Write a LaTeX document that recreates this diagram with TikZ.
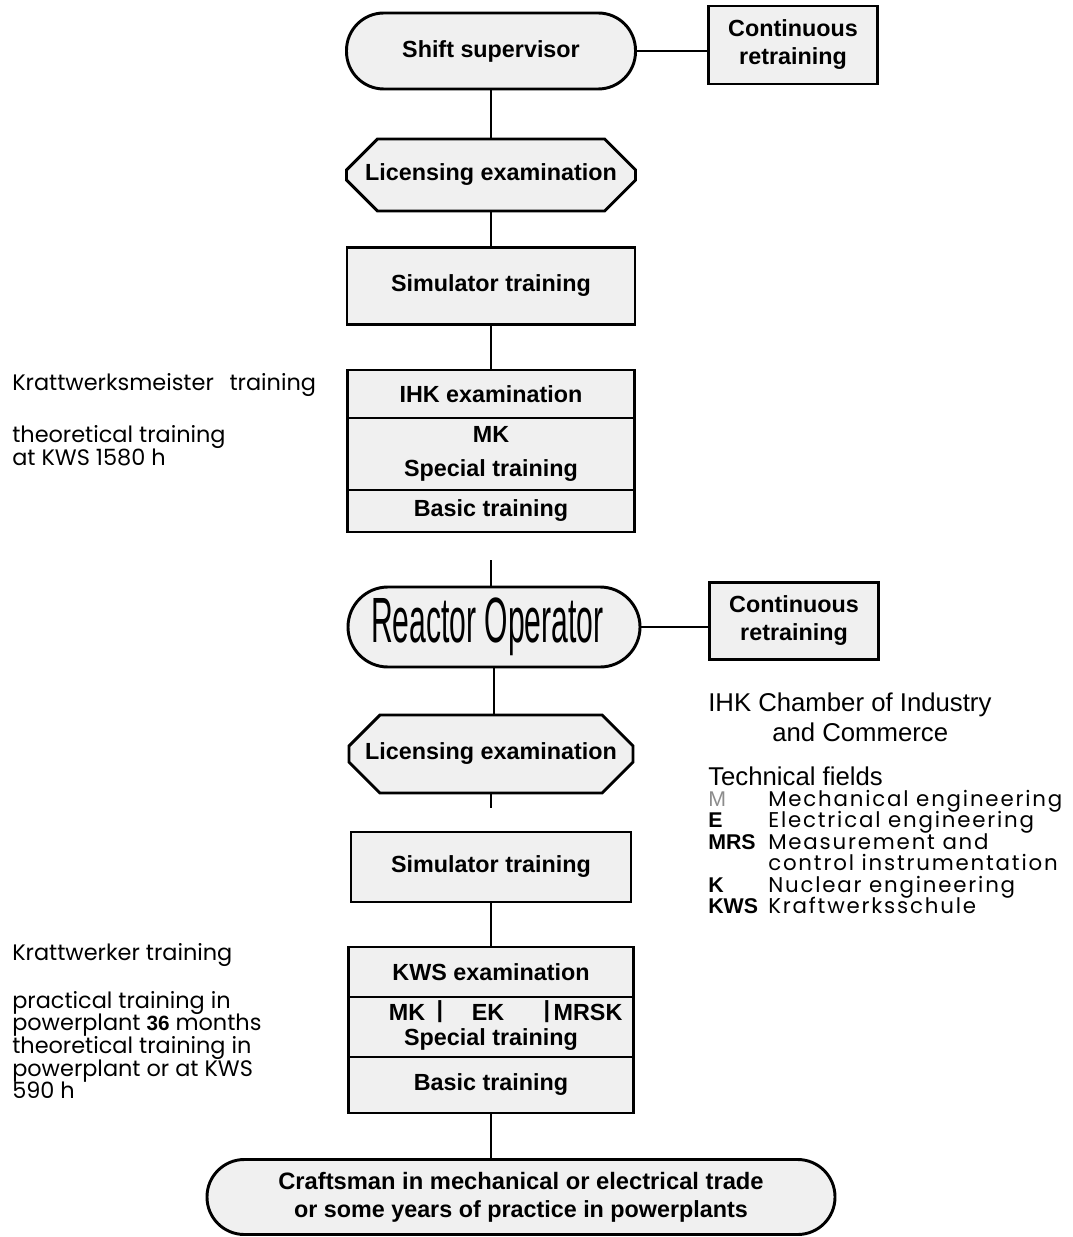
\documentclass[tikz,border=0pt]{standalone}
\usepackage{fontspec}
\setmainfont{Liberation Sans}
\newfontfamily\gothic{Poppins}
\newfontfamily\gothicw{Poppins}[LetterSpace=8.5]
\usetikzlibrary{shapes.misc}
\newcommand\tightlines{\lineskiplimit=-30pt\relax}
\begin{document}
\begin{tikzpicture}[x=0.75pt,y=-0.75pt,
  box/.style={draw, line width=2.2pt, fill=black!6, inner sep=0pt, align=center,
    font=\fontsize{17.5}{21}\selectfont\bfseries},
  stadium/.style={box, rounded corners=#1},
  octa/.style={box, chamfered rectangle, chamfered rectangle xsep=18pt, chamfered rectangle ysep=15pt},
  lbl/.style={inner sep=0pt, font=\fontsize{17.5}{21}\selectfont\bfseries},
  link/.style={line width=2pt},
  note/.style={anchor=west, inner sep=0pt, align=left, font=\gothic\fontsize{16.8}{17}\selectfont\tightlines},
  helv/.style={anchor=west, inner sep=0pt, align=left, font=\fontsize{19.3}{21}\selectfont},
]
\useasboundingbox (0,0) rectangle (1073,1237);

% upper column
\node[stadium=28pt, minimum width=216.75pt, minimum height=57pt] (ss) at (491,51) {Shift supervisor};
\node[box, minimum width=126.75pt, minimum height=58.5pt] (cr1) at (793,45) {Continuous\\retraining};
\node[octa, minimum width=216.75pt, minimum height=54pt] (le1) at (491,175) {Licensing examination};
\node[box, minimum width=216pt, minimum height=57.75pt] (sim1) at (491,286) {Simulator training};
\node[box, minimum width=215.25pt, minimum height=36pt] (ihk) at (491,394) {IHK examination};
\node[box, minimum width=215.25pt, minimum height=54pt] (mk1) at (491,454) {MK\\[5pt]Special training};
\node[box, minimum width=215.25pt, minimum height=31.5pt] (bt1) at (491,511) {Basic training};

\draw[link] (ss.east) -- (cr1.west |- ss.east);
\draw[link] (ss.south) -- (le1.north);
\draw[link] (le1.south) -- (sim1.north);
\draw[link] (sim1.south) -- (ihk.north);

% lower column
\coordinate (stub1) at (491,560);
\node[stadium=30pt, minimum width=219pt, minimum height=60pt] (ro) at (494,627)
  {\fontsize{48}{48}\selectfont\mdseries\hspace*{-10pt}\scalebox{0.47}[1]{Reactor Operator}};
\node[box, minimum width=126.75pt, minimum height=57.75pt] (cr2) at (794,621) {Continuous\\retraining};
\node[octa, minimum width=213pt, minimum height=58.5pt] (le2) at (491,754) {Licensing examination};
\coordinate (stub2) at (491,808);
\node[box, minimum width=210pt, minimum height=52.5pt] (sim2) at (491,867) {Simulator training};
\node[box, minimum width=213.75pt, minimum height=37.5pt] (kws) at (491,972) {KWS examination};
\node[box, minimum width=213.75pt, minimum height=45pt] (sp2) at (491,1027) {};
\node[lbl] (mk2) at (407,1012) {MK};
\node[lbl] (bar1) at (440,1012) {|};
\node[lbl] (ek2) at (488,1012) {EK};
\node[lbl] (bar2) at (547,1012) {|};
\node[lbl] (mrsk2) at (588,1012) {MRSK};
\node[lbl] (spt2) at (491,1040) {Special training};
\node[box, minimum width=213.75pt, minimum height=42pt] (bt2) at (491,1085) {Basic training};
\node[stadium=28pt, minimum width=471pt, minimum height=56.25pt] (craft) at (521,1197)
  {\fontsize{17.8}{21}\selectfont Craftsman in mechanical or electrical trade\\or some years of practice in powerplants};

\draw[link] (stub1) -- (stub1 |- ro.north);
\draw[link] (ro.east) -- (cr2.west |- ro.east);
\draw[link] (ro.south) -- (ro.south |- le2.north);
\draw[link] (le2.south) -- (stub2);
\draw[link] (sim2.south) -- (kws.north);
\draw[link] (bt2.south) -- (bt2.south |- craft.north);

% left notes
\node[note] (kmt) at (12,385) {Krattwerksmeister\hspace{0.7em}training};
\node[note] (kmd) at (12,446) {theoretical training\\at KWS 1580 h};
\node[note] (kwt) at (12,955) {Krattwerker training};
\node[note] (kwd) at (12,1045)
  {practical training in\\powerplant {\normalfont\fontsize{15.5}{15}\selectfont\bfseries 36} months\\theoretical training in\\powerplant or at KWS\\590 h};

% right legend
\node[helv] (ihkc) at (708,705) {IHK Chamber of Industry};
\node[helv] (andc) at (772,732) {and Commerce};
\node[helv] (tf) at (708,776) {Technical fields};
\node[anchor=north west, inner sep=0pt, align=left,
      font=\gothicw\fontsize{16}{16.1}\selectfont\tightlines] (legend) at (708,790)
  {\makebox[45pt][l]{\normalfont\fontsize{16}{15}\selectfont\color{black!45}M}Mechanical engineering\\
   \makebox[45pt][l]{\normalfont\fontsize{16}{15}\selectfont\bfseries E}Electrical engineering\\
   \makebox[45pt][l]{\normalfont\fontsize{16}{15}\selectfont\bfseries MRS}Measurement and\\
   \makebox[45pt][l]{}control instrumentation\\
   \makebox[45pt][l]{\normalfont\fontsize{16}{15}\selectfont\bfseries K}Nuclear engineering\\
   \makebox[45pt][l]{\normalfont\fontsize{16}{15}\selectfont\bfseries KWS}Kraftwerksschule};
\end{tikzpicture}
\end{document}
